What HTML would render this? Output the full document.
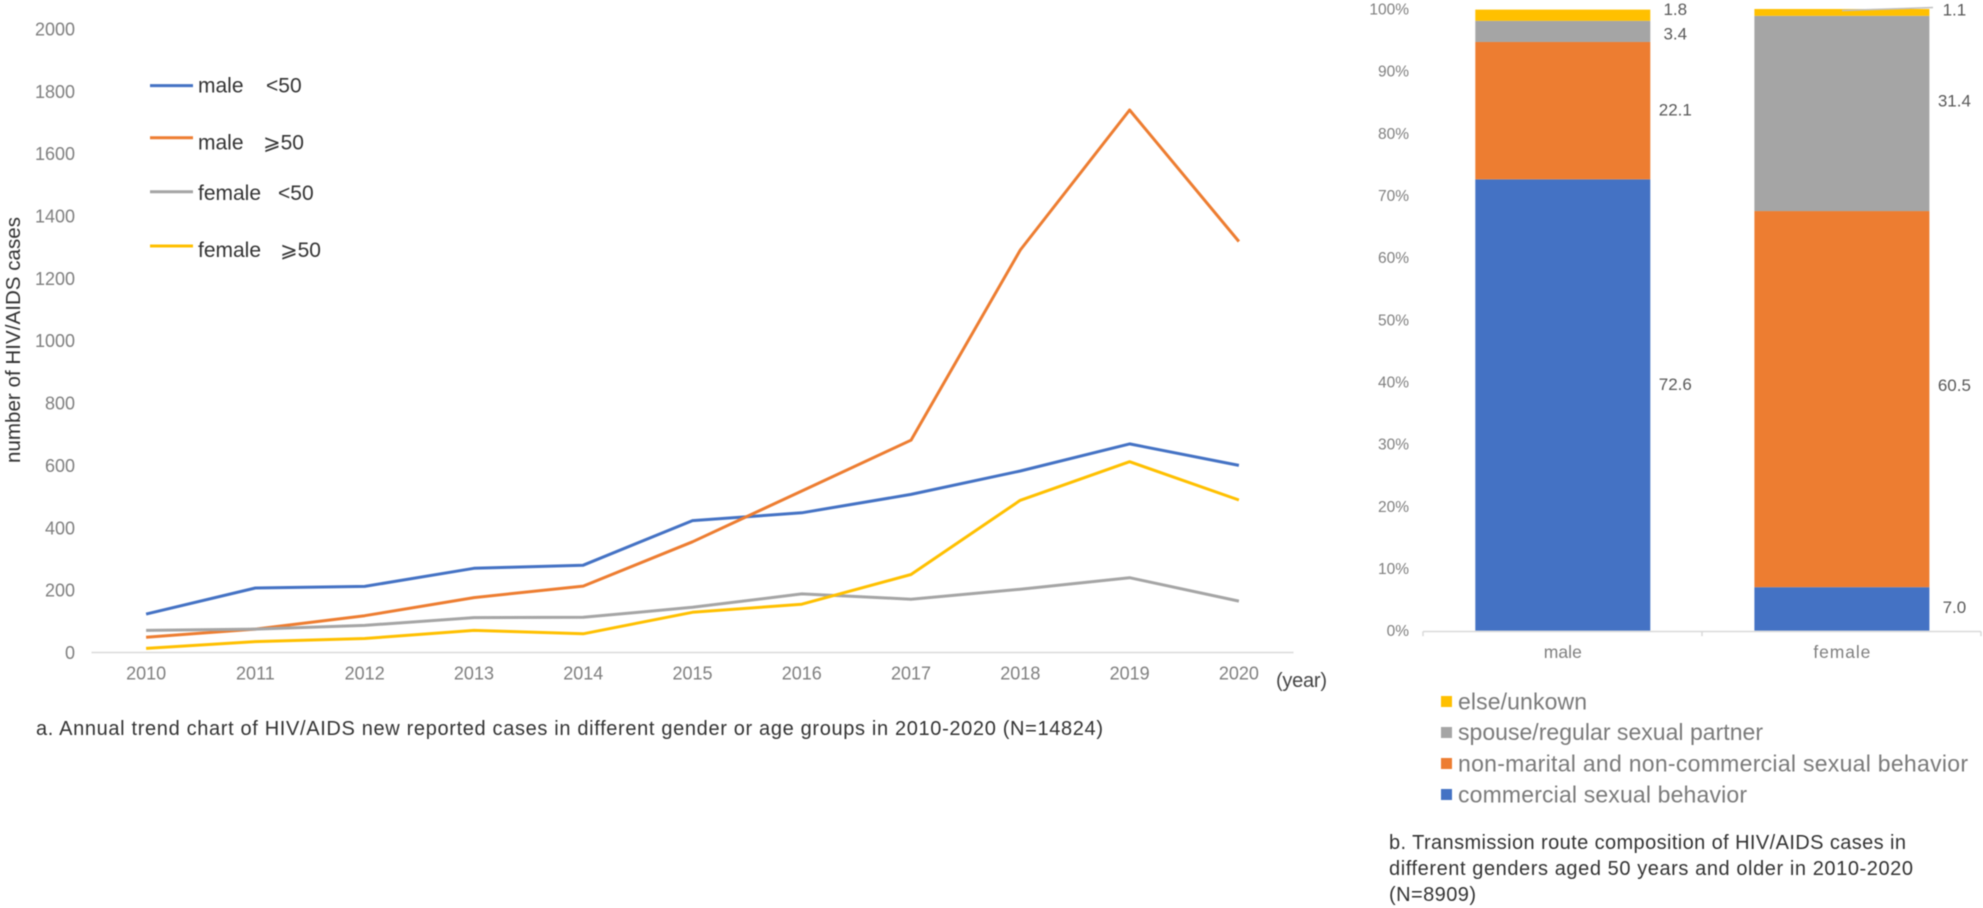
<!DOCTYPE html>
<html lang="en">
<head>
<meta charset="utf-8">
<title>HIV/AIDS new reported cases and transmission routes, 2010-2020</title>
<style>
html,body{margin:0;padding:0;background:#fff;}
svg{display:block;filter:blur(0.4px);}
text{font-family:"Liberation Sans","DejaVu Sans",sans-serif;}
</style>
</head>
<body>
<svg id="figure" xmlns="http://www.w3.org/2000/svg" width="1983" height="908" viewBox="0 0 1983 908">
  <g id="line-chart"></g>
  <g id="bar-chart"></g>

  <text transform="translate(20,340) rotate(-90)" text-anchor="middle" font-size="20.5" fill="#333" textLength="246" lengthAdjust="spacing">number of HIV/AIDS cases</text>
  <text x="1276" y="687" font-size="20" fill="#444" textLength="51" lengthAdjust="spacing">(year)</text>

  <g>
    <line x1="150" x2="193" y1="85.6" y2="85.6" stroke="#4472C4" stroke-width="3"/>
    <text y="92.5" font-size="21" fill="#333"><tspan x="198">male</tspan><tspan x="266">&lt;50</tspan></text>
    <line x1="150" x2="193" y1="137.7" y2="137.7" stroke="#ED7D31" stroke-width="3"/>
    <text y="149.5" font-size="21" fill="#333"><tspan x="198">male</tspan><tspan x="263">⩾50</tspan></text>
    <line x1="150" x2="193" y1="191.7" y2="191.7" stroke="#A5A5A5" stroke-width="3"/>
    <text y="200" font-size="21" fill="#333"><tspan x="198">female</tspan><tspan x="278">&lt;50</tspan></text>
    <line x1="150" x2="193" y1="246" y2="246" stroke="#FFC000" stroke-width="3"/>
    <text y="257" font-size="21" fill="#333"><tspan x="198">female</tspan><tspan x="280">⩾50</tspan></text>
  </g>

  <text x="36" y="735" font-size="20" fill="#333" textLength="1067" lengthAdjust="spacing">a. Annual trend chart of HIV/AIDS new reported cases in different gender or age groups in 2010-2020 (N=14824)</text>

  <g>
    <rect x="1441" y="696" width="11" height="11" fill="#FFC000"/>
    <text x="1458" y="709.5" font-size="23" fill="#7a7a7a" textLength="129" lengthAdjust="spacing">else/unkown</text>
    <rect x="1441" y="727" width="11" height="11" fill="#A5A5A5"/>
    <text x="1458" y="740" font-size="23" fill="#7a7a7a" textLength="305" lengthAdjust="spacing">spouse/regular sexual partner</text>
    <rect x="1441" y="758" width="11" height="11" fill="#ED7D31"/>
    <text x="1458" y="771.5" font-size="23" fill="#7a7a7a" textLength="510" lengthAdjust="spacing">non-marital and non-commercial sexual behavior</text>
    <rect x="1441" y="789" width="11" height="11" fill="#4472C4"/>
    <text x="1458" y="802.5" font-size="23" fill="#7a7a7a" textLength="289" lengthAdjust="spacing">commercial sexual behavior</text>
  </g>

  <g font-size="20" fill="#333">
    <text x="1389" y="849" textLength="517" lengthAdjust="spacing">b. Transmission route composition of HIV/AIDS cases in</text>
    <text x="1389" y="875" textLength="524" lengthAdjust="spacing">different genders aged 50 years and older in 2010-2020</text>
    <text x="1389" y="901" textLength="87" lengthAdjust="spacing">(N=8909)</text>
  </g>
</svg>

<script>
// ---- line chart data ----
const years = ['2010','2011','2012','2013','2014','2015','2016','2017','2018','2019','2020'];
const yTicks = [0,200,400,600,800,1000,1200,1400,1600,1800,2000];
const maleUnder50 = [123,207,212,270,280,423,448,507,582,669,600];
const maleOver50 = [49,75,118,176,213,355,518,681,1291,1740,1318];
const femaleUnder50 = [71,75,87,112,113,145,188,171,203,240,165];
const femaleOver50 = [13,35,45,71,60,129,155,250,488,612,489];

// ---- stacked bar data (percent) ----
const barCategories = ['male','female'];
const commercial = [72.6,7.0];
const nonMarital = [22.1,60.5];
const spouse = [3.4,31.4];
const elseUnknown = [1.8,1.1];
const pctTicks = [0,10,20,30,40,50,60,70,80,90,100];

const NS = 'http://www.w3.org/2000/svg';
function mk(parent, tag, attrs, txt) {
  const el = document.createElementNS(NS, tag);
  for (const k in attrs) el.setAttribute(k, attrs[k]);
  if (txt !== undefined) el.textContent = txt;
  parent.appendChild(el);
  return el;
}

// ---- line chart ----
const lineG = document.getElementById('line-chart');
const plotL = 91.5, plotR = 1293.5, baseY = 652.5, topY = 28.9, yMax = 2000;
const xLine = i => plotL + (plotR - plotL) * (i + 0.5) / years.length;
const yLine = v => baseY - (baseY - topY) * v / yMax;

const xAxis = mk(lineG, 'line', {x1: plotL, x2: plotR, y1: baseY, y2: baseY, stroke: '#D9D9D9', 'stroke-width': 1.5});



yTicks.forEach(v => {
  const t = mk(lineG, 'text', {x: 75, y: yLine(v) + 6.5, 'text-anchor': 'end', 'font-size': 18, fill: '#7f7f7f'}, String(v));
  
  
});
years.forEach((yr, i) => {
  const t = mk(lineG, 'text', {x: xLine(i), y: 679.5, 'text-anchor': 'middle', 'font-size': 18, fill: '#7f7f7f'}, yr);
  
  
});

function drawLine(values, color, name) {
  const pts = values.map((v, i) => xLine(i).toFixed(1) + ',' + yLine(v).toFixed(1)).join(' ');
  const p = mk(lineG, 'polyline', {points: pts, fill: 'none', stroke: color, 'stroke-width': 3, 'stroke-linejoin': 'round'});
  
  
}
drawLine(maleUnder50, '#4472C4', 'series-male-under-50');
drawLine(maleOver50, '#ED7D31', 'series-male-50-plus');
drawLine(femaleUnder50, '#A5A5A5', 'series-female-under-50');
drawLine(femaleOver50, '#FFC000', 'series-female-50-plus');

// ---- stacked bar chart ----
const barG = document.getElementById('bar-chart');
const bL = 1423, bR = 1981, bBase = 630.7, bTop = 9, barW = 175;
const catW = (bR - bL) / barCategories.length;
const yBar = p => bBase - (bBase - bTop) * p / 100;
const xBarCenter = i => bL + catW * (i + 0.5) + (i === 0 ? 0.3 : 0.4);

pctTicks.forEach(p => {
  const t = mk(barG, 'text', {x: 1409, y: yBar(p) + 5.5, 'text-anchor': 'end', 'font-size': 15.5, fill: '#7f7f7f'}, p + '%');
  
  
});

const stacks = [
  {values: commercial, color: '#4472C4', name: 'commercial'},
  {values: nonMarital, color: '#ED7D31', name: 'non-marital'},
  {values: spouse, color: '#A5A5A5', name: 'spouse'},
  {values: elseUnknown, color: '#FFC000', name: 'else'}
];
// hand-placed label nudges from each segment's centre (layout, not data)
const labelNudge = [[-21,-1,2,-6],[-2,-14,-13,-3]];

barCategories.forEach((cat, c) => {
  let acc = 0;
  const cx = xBarCenter(c);
  stacks.forEach((s, k) => {
    const v = s.values[c];
    const y1 = yBar(acc + v), y0 = yBar(acc);
    const r = mk(barG, 'rect', {x: cx - barW / 2, y: y1, width: barW, height: y0 - y1, fill: s.color});
    
    
    const t = mk(barG, 'text', {x: cx + barW / 2 + 25, y: (y0 + y1) / 2 + labelNudge[c][k] + 6, 'text-anchor': 'middle', 'font-size': 17, fill: '#595959'}, v.toFixed(1));
    
    
    acc += v;
  });
  const lab = mk(barG, 'text', {x: cx, y: 658, 'text-anchor': 'middle', 'font-size': 17.5, fill: '#7f7f7f', textLength: cat.length * 9.5, lengthAdjust: 'spacing'}, cat);
  
  
});

const barAxis = mk(barG, 'line', {x1: bL, x2: bR, y1: bBase + 0.8, y2: bBase + 0.8, stroke: '#D9D9D9', 'stroke-width': 1.5});


for (let i = 0; i <= barCategories.length; i++) {
  const tk = mk(barG, 'line', {x1: bL + catW * i, x2: bL + catW * i, y1: bBase + 0.8, y2: bBase + 5.5, stroke: '#D9D9D9', 'stroke-width': 1.5});
  
  
}
const leader = mk(barG, 'line', {x1: 1842, x2: 1933, y1: 10.5, y2: 7.5, stroke: '#BFBFBF', 'stroke-width': 1.5});


</script>
</body>
</html>
